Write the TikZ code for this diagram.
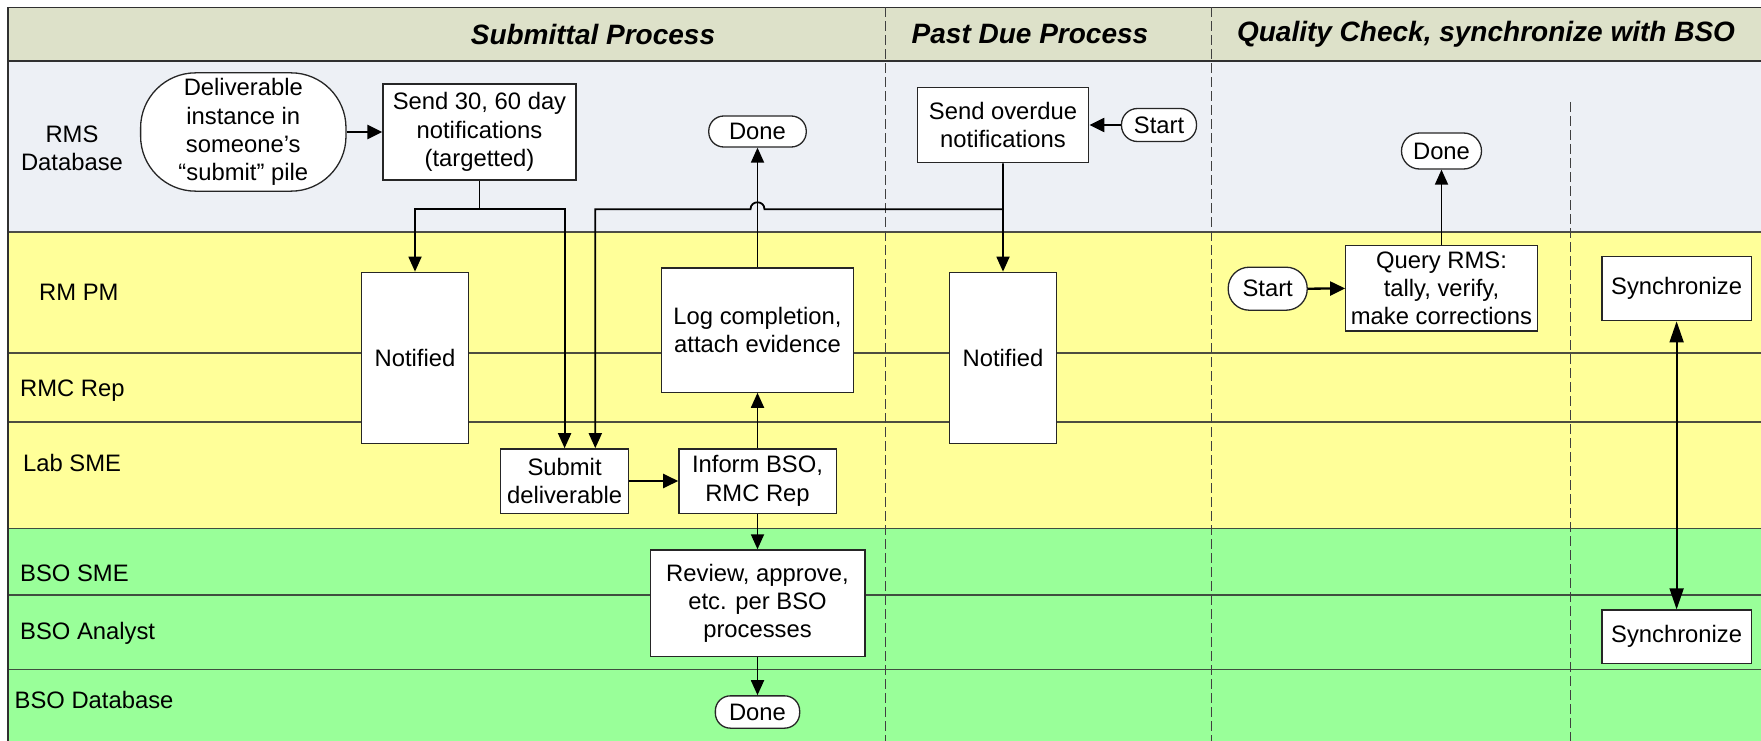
\documentclass[tikz,border=0pt]{standalone}
\usepackage{fontspec}
\setmainfont{Liberation Sans}
\usetikzlibrary{arrows.meta}

\definecolor{hdrfill}{HTML}{DDE1C9}
\definecolor{rmsfill}{HTML}{EDF0F5}
\definecolor{labfill}{HTML}{FFFF99}
\definecolor{bsofill}{HTML}{99FF99}
\definecolor{laneline}{HTML}{303030}

\begin{document}
\begin{tikzpicture}[x=1pt,y=-1pt,
  font=\fontsize{23.8}{28.3}\selectfont,
  hdr/.style={font=\fontsize{28}{32}\selectfont\bfseries\itshape},
  lbl/.style={inner sep=0pt, align=center},
  wlbl/.style={inner sep=0pt, anchor=west},
  proc/.style={draw=black!85, line width=1.3pt, fill=white, inner sep=0pt, align=center},
  term/.style={proc, rounded corners=#1},
  term/.default=15pt,
  lane/.style={draw=laneline, opacity=0.85, line width=1.6pt},
  divider/.style={draw=black!75, line width=1pt, dash pattern=on 10pt off 4pt},
  conn/.style={draw=black, line width=1.8pt},
  flow/.style={conn, -{Triangle[length=15pt,width=13pt]}},
  flowh/.style={draw=black, line width=2.3pt, -{Triangle[length=15pt,width=14pt]}},
  syncarrow/.style={conn, {Triangle[length=21pt,width=14pt]}-{Triangle[length=21pt,width=14pt]}}
]
\useasboundingbox (0,0) rectangle (1761,741);

% lane backgrounds
\fill[hdrfill] (8,7.3) rectangle (1761,61);
\fill[rmsfill] (8,61) rectangle (1761,231.7);
\fill[labfill] (8,231.7) rectangle (1761,528.3);
\fill[bsofill] (8,528.3) rectangle (1761,741);

% lane separators
\foreach \yy in {231.7,352.7,422,528.3,595,669.3}
  \draw[lane] (8,\yy) -- (1761,\yy);
\draw[draw=laneline, line width=2pt] (8,61) -- (1761,61);
\draw[draw=laneline, line width=1.5pt] (1761,7.3) -- (8,7.3) -- (8,741);

% phase dividers
\draw[divider] (885,7.3) -- (885,741);
\draw[divider] (1211.5,7.3) -- (1211.5,741);
\draw[divider] (1570,102) -- (1570,741);

% phase titles
\node[hdr] (tsub) at (593,34) {Submittal Process};
\node[hdr] (tpast) at (1030,34) {Past Due Process};
\node[hdr] (tqc) at (1486,34) {Quality Check, synchronize with BSO};

% lane labels
\node[lbl] (lrms) at (72,148) {RMS\\Database};
\node[wlbl] (lrmpm) at (39,292) {RM PM};
\node[wlbl] (lrmc) at (20,391) {RMC Rep};
\node[wlbl] (llab) at (23,463) {Lab SME};
\node[wlbl] (lbsme) at (20,573) {BSO SME};
\node[wlbl] (lbsan) at (20,633) {BSO Analyst};
\node[wlbl] (lbsdb) at (14.5,700) {BSO Database};

% submittal process
\node[term=55pt, minimum width=205.4pt, minimum height=118.3pt] (deliv) at (243.3,132)
  {Deliverable\\instance in\\someone’s\\“submit” pile};
\node[proc, minimum width=193pt, minimum height=96pt] (send) at (479.5,132)
  {Send 30, 60 day\\notifications\\(targetted)};
\node[term, minimum width=97.5pt, minimum height=31pt] (done1) at (757.5,131.5) {Done};
\node[proc, minimum width=107pt, minimum height=171pt] (notif1) at (415,357.8) {Notified};
\node[proc, minimum width=192.3pt, minimum height=124.3pt] (log) at (757.5,330)
  {Log completion,\\attach evidence};
\node[proc, minimum width=128pt, minimum height=64.3pt] (submit) at (564.6,481)
  {Submit\\deliverable};
\node[proc, minimum width=157.3pt, minimum height=64.3pt] (inform) at (757.5,481)
  {Inform BSO,\\RMC Rep};
\node[proc, minimum width=214.7pt, minimum height=106.7pt] (review) at (757.5,603.3)
  {Review, approve,\\etc. per BSO\\processes};
\node[term, minimum width=84.3pt, minimum height=32.3pt] (done3) at (757.5,712) {Done};

% past due process
\node[proc, minimum width=171.5pt, minimum height=75.5pt] (overdue) at (1003,125)
  {Send overdue\\notifications};
\node[term=16pt, minimum width=75pt, minimum height=33pt] (start1) at (1159,125) {Start};
\node[proc, minimum width=107pt, minimum height=171pt] (notif2) at (1003,357.8) {Notified};

% quality check
\node[term=18pt, minimum width=80pt, minimum height=36pt] (done2) at (1441.5,151) {Done};
\node[term=21pt, minimum width=79pt, minimum height=43pt] (start2) at (1267.7,288.7) {Start};
\node[proc, minimum width=191.5pt, minimum height=85.3pt] (query) at (1441.5,288.4)
  {Query RMS:\\tally, verify,\\make corrections};
\node[proc, minimum width=149.4pt, minimum height=64pt] (sync1) at (1676.6,288.7) {Synchronize};
\node[proc, minimum width=149.4pt, minimum height=53.3pt] (sync2) at (1676.6,636.7) {Synchronize};

% junction points of the notification lines
\coordinate (j1) at (send.south |- 0,209.3);
\coordinate (j2) at (overdue.south |- 0,209.3);
\coordinate (sub2) at ([xshift=30.7pt]submit.north);

% connectors
\draw[flowh] (deliv.east) -- (send.west);
\draw[conn] (send.south) -- (j1);
\draw[flow] (j1) -| (notif1.north);
\draw[flow] (j1) -| (submit.north);
\draw[flow] (overdue.south) -- (j2)
  -- ([xshift=7pt]log.north |- j2)
  .. controls +(0,-9.33) and +(0,-9.33) .. ([xshift=-7pt]log.north |- j2)
  -- (sub2 |- j2) -- (sub2);
\draw[flow] (j2) -- (notif2.north);
\draw[flow] (log.north) -- (done1.south);
\draw[flowh] (submit.east) -- (inform.west);
\draw[flow] (inform.north) -- (log.south);
\draw[flow] (inform.south) -- (review.north);
\draw[flow] (review.south) -- (done3.north);
\draw[flowh] (start1.west) -- (overdue.east);
\draw[flowh] (start2.east) -- (query.west);
\draw[flow] (query.north) -- (done2.south);
\draw[syncarrow] (sync1.south) -- (sync2.north);
\end{tikzpicture}
\end{document}
